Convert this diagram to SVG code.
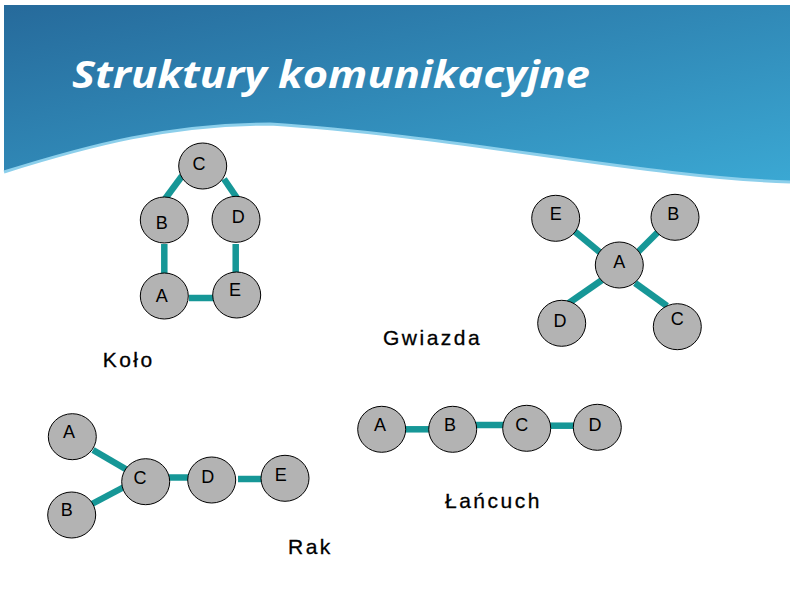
<svg xmlns="http://www.w3.org/2000/svg" width="794" height="595" viewBox="0 0 794 595">
<defs>
<linearGradient id="hdr" x1="0" y1="0" x2="1" y2="1">
<stop offset="0" stop-color="#266a9b"/>
<stop offset="1" stop-color="#3ba8d3"/>
</linearGradient>
</defs>
<style>
.n ellipse{fill:#b3b3b3;stroke:#000;stroke-width:1}
.n text{font-family:"Liberation Sans",Arial,sans-serif;font-size:18px;fill:#000;text-anchor:middle}
.e line{stroke:#169797;stroke-width:6.5;stroke-linecap:butt}
.lbl{font-family:"Liberation Sans",Arial,sans-serif;font-size:21px;fill:#000;letter-spacing:2.5px;stroke:#000;stroke-width:0.3}
.title{font-family:"Open Sans","DejaVu Sans",sans-serif;font-style:italic;font-weight:700;font-size:38px;fill:#fff}
</style>
<rect width="794" height="595" fill="#fff"/>
<g id="header">
<path d="M4,5 H790 V182 C650,178 450,135 270,124 C170,124 90,145 4,172 Z" fill="url(#hdr)"/>
<path d="M790,182 C650,178 450,135 270,124 C170,124 90,145 4,172" fill="none" stroke="#8ccfeb" stroke-width="3"/>
<text class="title" x="72" y="88" textLength="518" lengthAdjust="spacingAndGlyphs">Struktury komunikacyjne</text>
</g>

<g id="connectors" class="e">
<line x1="182" y1="176" x2="165" y2="199"/>
<line x1="224" y1="179" x2="237" y2="198"/>
<line x1="164.3" y1="244" x2="164.3" y2="274"/>
<line x1="235.7" y1="244" x2="235.7" y2="273"/>
<line x1="189" y1="298" x2="214" y2="298"/>
<line x1="573" y1="230" x2="602" y2="254"/>
<line x1="658" y1="232" x2="638" y2="252"/>
<line x1="602" y1="280" x2="566" y2="305"/>
<line x1="635" y1="283" x2="667" y2="306"/>
<line x1="93" y1="450" x2="129" y2="471"/>
<line x1="90" y1="505" x2="124" y2="487"/>
<line x1="169" y1="477.5" x2="192" y2="477.5"/>
<line x1="238" y1="479" x2="264" y2="479"/>
<line x1="405" y1="429.3" x2="430" y2="429.3"/>
<line x1="476" y1="425" x2="505" y2="425"/>
<line x1="550" y1="425.7" x2="575" y2="425.7"/>
</g>

<g id="kolo-C" class="n"><ellipse cx="202.7" cy="166" rx="24" ry="23"/><text x="199" y="169.5">C</text></g>
<g id="kolo-B" class="n"><ellipse cx="164.3" cy="220" rx="24" ry="23"/><text x="161.7" y="229">B</text></g>
<g id="kolo-D" class="n"><ellipse cx="236" cy="219.3" rx="24" ry="23"/><text x="238.3" y="223">D</text></g>
<g id="kolo-A" class="n"><ellipse cx="164.3" cy="296" rx="24" ry="23"/><text x="161.7" y="301.5">A</text></g>
<g id="kolo-E" class="n"><ellipse cx="236.7" cy="295" rx="24" ry="23"/><text x="235" y="295.5">E</text></g>

<g id="gw-E" class="n"><ellipse cx="555.7" cy="218.3" rx="24" ry="23"/><text x="555.7" y="219.5">E</text></g>
<g id="gw-B" class="n"><ellipse cx="675" cy="217.3" rx="24" ry="23"/><text x="673.3" y="219.5">B</text></g>
<g id="gw-A" class="n"><ellipse cx="619.3" cy="265" rx="24" ry="23"/><text x="619.3" y="267.5">A</text></g>
<g id="gw-D" class="n"><ellipse cx="561.7" cy="323.3" rx="24" ry="23"/><text x="560" y="326.5">D</text></g>
<g id="gw-C" class="n"><ellipse cx="677.3" cy="326.7" rx="24" ry="23"/><text x="677.3" y="324.5">C</text></g>

<g id="rak-A" class="n"><ellipse cx="72.3" cy="436.7" rx="24" ry="23"/><text x="69" y="438">A</text></g>
<g id="rak-B" class="n"><ellipse cx="71.7" cy="515" rx="24" ry="23"/><text x="66.7" y="516">B</text></g>
<g id="rak-C" class="n"><ellipse cx="145.7" cy="481.7" rx="24" ry="23"/><text x="140" y="484">C</text></g>
<g id="rak-D" class="n"><ellipse cx="211.7" cy="480" rx="24" ry="23"/><text x="207.7" y="483">D</text></g>
<g id="rak-E" class="n"><ellipse cx="285" cy="478.3" rx="24" ry="23"/><text x="280.7" y="481">E</text></g>

<g id="ch-A" class="n"><ellipse cx="381.7" cy="429.3" rx="24" ry="23"/><text x="380" y="431">A</text></g>
<g id="ch-B" class="n"><ellipse cx="452.7" cy="429.3" rx="24" ry="23"/><text x="450" y="431">B</text></g>
<g id="ch-C" class="n"><ellipse cx="526.7" cy="428.3" rx="24" ry="23"/><text x="521.7" y="431">C</text></g>
<g id="ch-D" class="n"><ellipse cx="597.3" cy="427.3" rx="24" ry="23"/><text x="595" y="431">D</text></g>

<g id="labels">
<text class="lbl" x="383" y="344.7">Gwiazda</text>
<text class="lbl" x="102.7" y="367">Koło</text>
<text class="lbl" x="288" y="554">Rak</text>
<text class="lbl" x="445" y="508">Łańcuch</text>
</g>
</svg>
